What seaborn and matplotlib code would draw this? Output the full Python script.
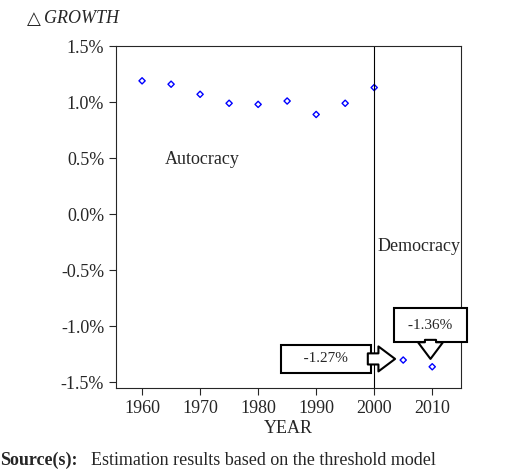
import seaborn as sns
import matplotlib.pyplot as plt
import pandas as pd

years = [1960, 1965, 1970, 1975, 1980, 1985, 1990, 1995, 2000, 2005, 2010]
growth = [1.19, 1.16, 1.07, 0.99, 0.98, 1.01, 0.89, 0.99, 1.13, -1.30, -1.36]
yticks = [1.5, 1.0, 0.5, 0.0, -0.5, -1.0, -1.5]
xticks = [1960, 1970, 1980, 1990, 2000, 2010]

sns.set_style("ticks")
plt.rcParams['font.family'] = ['Liberation Serif', 'DejaVu Serif']

df = pd.DataFrame({"year": years, "growth": growth})
fig = plt.figure(figsize=(5.2, 4.75), dpi=100)
ax = fig.add_axes([0.223, 0.183, 0.664, 0.72])
sns.scatterplot(data=df, x="year", y="growth", ax=ax, marker="D", s=10,
                facecolor="none", edgecolor="blue", linewidth=1)

ax.axvline(2000, color="black", lw=0.8)
ax.set_xlim(1955.5, 2015)
ax.set_ylim(-1.55, 1.5)
ax.set_xticks(xticks)
ax.set_yticks(yticks)
ax.set_yticklabels([f"{v:.1f}%" for v in yticks])
ax.tick_params(labelsize=13, length=5, width=0.8)
for s in ax.spines.values():
    s.set_linewidth(0.8)
ax.set_xlabel("YEAR", fontsize=13, labelpad=2)
ax.set_ylabel("")

ax.text(1964.0, 0.49, "Autocracy", fontsize=13, va="center")
ax.text(2000.6, -0.29, "Democracy", fontsize=13, va="center")

box = dict(boxstyle="square,pad=0.5", fc="white", ec="black", lw=1.5)
arrow = dict(arrowstyle="simple,head_width=0.9,head_length=0.6,tail_width=0.4",
             fc="white", ec="black", lw=1.5, mutation_scale=20, shrinkA=0, shrinkB=0)
ax.text(1991.7, -1.29, "    -1.27%    ", fontsize=11, ha="center", va="center", bbox=box)
ax.annotate("", xy=(2003.6, -1.29), xytext=(1998.9, -1.29), arrowprops=arrow)
ax.text(2009.7, -0.99, " -1.36% ", fontsize=11, ha="center", va="center",
        bbox=dict(boxstyle="square,pad=0.7", fc="white", ec="black", lw=1.5))
ax.annotate("", xy=(2009.7, -1.29), xytext=(2009.7, -1.12), arrowprops=arrow)

fig.text(0.052, 0.978, "△", fontsize=13, va="top", family=['DejaVu Sans'])
fig.text(0.085, 0.978, "GROWTH", fontsize=13, va="top", style="italic")
fig.text(0.0, 0.012, "Source(s):", fontsize=13, fontweight="bold", va="bottom")
fig.text(0.175, 0.012, "Estimation results based on the threshold model", fontsize=13, va="bottom")

fig.savefig("out.png", dpi=100)
